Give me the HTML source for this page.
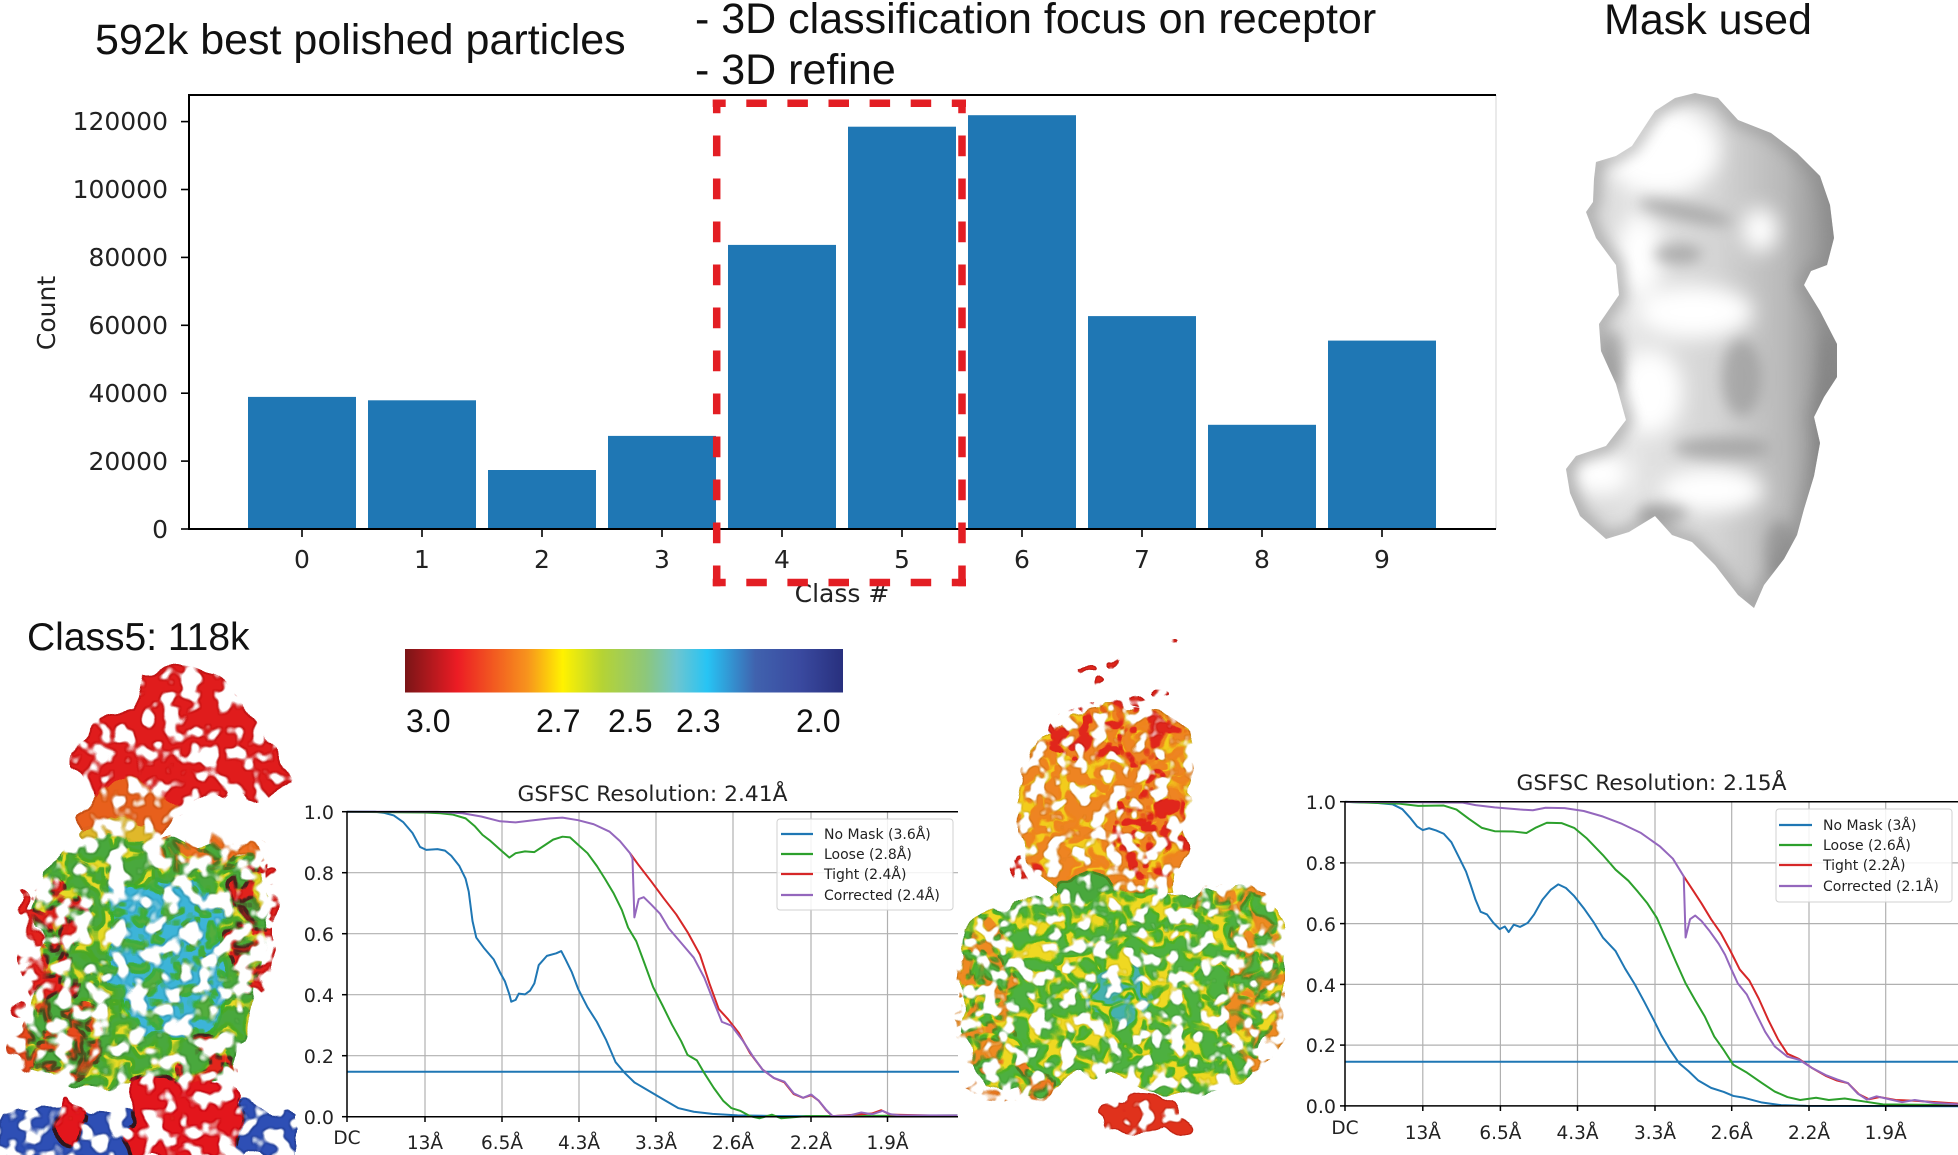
<!DOCTYPE html>
<html><head><meta charset="utf-8"><style>
html,body{margin:0;padding:0;background:#fff;}
body{width:1958px;height:1155px;overflow:hidden;}
svg{display:block;}
.lib{font-family:"Liberation Sans",Arial,sans-serif;fill:#111;}
.dv{font-family:"DejaVu Sans","Liberation Sans",sans-serif;fill:#222;}
</style></head><body>
<svg width="1958" height="1155" viewBox="0 0 1958 1155" xmlns="http://www.w3.org/2000/svg">
<defs>
  <linearGradient id="cbar" x1="0" y1="0" x2="1" y2="0">
    <stop offset="0" stop-color="#7a1517"/>
    <stop offset="0.12" stop-color="#ec1c24"/>
    <stop offset="0.28" stop-color="#f7941d"/>
    <stop offset="0.36" stop-color="#fff200"/>
    <stop offset="0.45" stop-color="#b5d334"/>
    <stop offset="0.55" stop-color="#8dc77b"/>
    <stop offset="0.62" stop-color="#6dc5d0"/>
    <stop offset="0.69" stop-color="#27c4f4"/>
    <stop offset="0.80" stop-color="#4062ae"/>
    <stop offset="0.90" stop-color="#3a4aa0"/>
    <stop offset="1" stop-color="#28307e"/>
  </linearGradient>
  <linearGradient id="blobg" gradientUnits="userSpaceOnUse" x1="1566" y1="0" x2="1840" y2="0">
    <stop offset="0" stop-color="#d0d0d0"/>
    <stop offset="0.25" stop-color="#e4e4e4"/>
    <stop offset="0.55" stop-color="#d4d4d4"/>
    <stop offset="0.8" stop-color="#b8b8b8"/>
    <stop offset="1" stop-color="#8a8a8a"/>
  </linearGradient>
  <clipPath id="blobclip"><path d="M1655,111 L1675,98 L1695,93 L1718,98 L1738,120 L1771,133 L1797,153 L1820,176 L1830,205 L1834,238 L1827,265 L1811,271 L1804,285 L1820,311 L1837,344 L1837,377 L1824,397 L1814,417 L1820,443 L1814,476 L1804,509 L1797,535 L1784,559 L1764,585 L1754,608 L1738,595 L1715,565 L1692,542 L1672,535 L1655,516 L1629,532 L1606,539 L1580,516 L1570,493 L1566,469 L1576,456 L1606,446 L1626,420 L1616,384 L1601,351 L1599,324 L1619,295 L1616,265 L1596,238 L1586,212 L1593,202 L1594,179 L1596,162 L1616,156 L1632,146 L1649,120 Z"/></clipPath>
  <filter id="blur10" x="-50%" y="-50%" width="200%" height="200%"><feGaussianBlur stdDeviation="10"/></filter>
  <filter id="blur7" x="-50%" y="-50%" width="200%" height="200%"><feGaussianBlur stdDeviation="7"/></filter>
  <filter id="holesL" x="-10%" y="-10%" width="120%" height="120%">
    <feTurbulence type="fractalNoise" baseFrequency="0.03" numOctaves="2" seed="7" result="d"/>
    <feDisplacementMap in="SourceGraphic" in2="d" scale="30" xChannelSelector="R" yChannelSelector="G" result="disp"/>
    <feTurbulence type="fractalNoise" baseFrequency="0.055" numOctaves="2" seed="4" result="t"/>
    <feColorMatrix in="t" type="matrix" values="0 0 0 0 0 0 0 0 0 0 0 0 0 0 0 -10 0 0 0 6.05" result="m"/>
    <feComposite in="disp" in2="m" operator="in" result="c"/>
    <feComponentTransfer in="c" result="dark"><feFuncR type="linear" slope="0.72"/><feFuncG type="linear" slope="0.72"/><feFuncB type="linear" slope="0.72"/></feComponentTransfer>
    <feMorphology in="c" operator="erode" radius="1.3" result="er"/>
    <feMerge><feMergeNode in="dark"/><feMergeNode in="er"/></feMerge>
  </filter>
  <filter id="holesM" x="-10%" y="-10%" width="120%" height="120%">
    <feTurbulence type="fractalNoise" baseFrequency="0.035" numOctaves="2" seed="13" result="d"/>
    <feDisplacementMap in="SourceGraphic" in2="d" scale="26" xChannelSelector="R" yChannelSelector="G" result="disp"/>
    <feTurbulence type="fractalNoise" baseFrequency="0.065" numOctaves="2" seed="9" result="t"/>
    <feColorMatrix in="t" type="matrix" values="0 0 0 0 0 0 0 0 0 0 0 0 0 0 0 -10 0 0 0 6.2" result="m"/>
    <feComposite in="disp" in2="m" operator="in" result="c"/>
    <feComponentTransfer in="c" result="dark"><feFuncR type="linear" slope="0.72"/><feFuncG type="linear" slope="0.72"/><feFuncB type="linear" slope="0.72"/></feComponentTransfer>
    <feMorphology in="c" operator="erode" radius="1.2" result="er"/>
    <feMerge><feMergeNode in="dark"/><feMergeNode in="er"/></feMerge>
  </filter>
  <filter id="spA" x="-5%" y="-5%" width="110%" height="110%">
    <feTurbulence type="fractalNoise" baseFrequency="0.07" numOctaves="2" seed="11" result="t"/>
    <feColorMatrix in="t" type="matrix" values="0 0 0 0 0 0 0 0 0 0 0 0 0 0 0 10 0 0 0 -5.0" result="m"/>
    <feComposite in="SourceGraphic" in2="m" operator="in"/>
  </filter>
  <filter id="spB" x="-5%" y="-5%" width="110%" height="110%">
    <feTurbulence type="fractalNoise" baseFrequency="0.08" numOctaves="2" seed="23" result="t"/>
    <feColorMatrix in="t" type="matrix" values="0 0 0 0 0 0 0 0 0 0 0 0 0 0 0 10 0 0 0 -5.3" result="m"/>
    <feComposite in="SourceGraphic" in2="m" operator="in"/>
  </filter>
  <filter id="spC" x="-5%" y="-5%" width="110%" height="110%">
    <feTurbulence type="fractalNoise" baseFrequency="0.07" numOctaves="2" seed="37" result="t"/>
    <feColorMatrix in="t" type="matrix" values="0 0 0 0 0 0 0 0 0 0 0 0 0 0 0 10 0 0 0 -4.8" result="m"/>
    <feComposite in="SourceGraphic" in2="m" operator="in"/>
  </filter>
</defs>

<!-- Titles -->
<text class="lib" x="95" y="54" font-size="43">592k best polished particles</text>
<text class="lib" x="695" y="33" font-size="43">- 3D classification focus on receptor</text>
<text class="lib" x="695" y="84" font-size="43">- 3D refine</text>
<text class="lib" x="1604" y="34" font-size="43">Mask used</text>

<!-- Bar chart -->
<g fill="#1f77b4">
  <rect x="248" y="396.9" width="108" height="132.1"/>
  <rect x="368" y="400.3" width="108" height="128.7"/>
  <rect x="488" y="470.0" width="108" height="59.0"/>
  <rect x="608" y="435.9" width="108" height="93.1"/>
  <rect x="728" y="244.9" width="108" height="284.1"/>
  <rect x="848" y="126.7" width="108" height="402.3"/>
  <rect x="968" y="115.2" width="108" height="413.8"/>
  <rect x="1088" y="316.1" width="108" height="212.9"/>
  <rect x="1208" y="424.8" width="108" height="104.2"/>
  <rect x="1328" y="340.6" width="108" height="188.4"/>
</g>
<line x1="1496" y1="95" x2="1496" y2="529" stroke="#d6d6d6" stroke-width="1"/>
<g stroke="#000" stroke-width="2">
  <line x1="188" y1="95" x2="1496" y2="95"/>
  <line x1="188" y1="529" x2="1496" y2="529"/>
  <line x1="189" y1="95" x2="189" y2="530"/>
</g>
<g stroke="#000" stroke-width="1.6">
  <line x1="181" y1="529" x2="189" y2="529"/>
  <line x1="181" y1="461.1" x2="189" y2="461.1"/>
  <line x1="181" y1="393.2" x2="189" y2="393.2"/>
  <line x1="181" y1="325.3" x2="189" y2="325.3"/>
  <line x1="181" y1="257.4" x2="189" y2="257.4"/>
  <line x1="181" y1="189.5" x2="189" y2="189.5"/>
  <line x1="181" y1="121.6" x2="189" y2="121.6"/>
  <line x1="302" y1="529" x2="302" y2="537"/>
  <line x1="422" y1="529" x2="422" y2="537"/>
  <line x1="542" y1="529" x2="542" y2="537"/>
  <line x1="662" y1="529" x2="662" y2="537"/>
  <line x1="782" y1="529" x2="782" y2="537"/>
  <line x1="902" y1="529" x2="902" y2="537"/>
  <line x1="1022" y1="529" x2="1022" y2="537"/>
  <line x1="1142" y1="529" x2="1142" y2="537"/>
  <line x1="1262" y1="529" x2="1262" y2="537"/>
  <line x1="1382" y1="529" x2="1382" y2="537"/>
</g>
<g class="dv" font-size="25" text-anchor="end">
  <text x="168" y="538">0</text>
  <text x="168" y="470">20000</text>
  <text x="168" y="402">40000</text>
  <text x="168" y="334">60000</text>
  <text x="168" y="266">80000</text>
  <text x="168" y="198">100000</text>
  <text x="168" y="130">120000</text>
</g>
<g class="dv" font-size="25" text-anchor="middle">
  <text x="302" y="568">0</text>
  <text x="422" y="568">1</text>
  <text x="542" y="568">2</text>
  <text x="662" y="568">3</text>
  <text x="782" y="568">4</text>
  <text x="902" y="568">5</text>
  <text x="1022" y="568">6</text>
  <text x="1142" y="568">7</text>
  <text x="1262" y="568">8</text>
  <text x="1382" y="568">9</text>
  <text x="842" y="602">Class #</text>
</g>
<text class="dv" font-size="25" text-anchor="middle" transform="translate(55,313) rotate(-90)">Count</text>

<!-- Red dashed box -->
<g stroke="#e31e24" stroke-width="7.5" fill="none">
  <line x1="712.7" y1="103.3" x2="966" y2="103.3" stroke-dasharray="20.5 20.6" stroke-dashoffset="7.5"/>
  <line x1="712.7" y1="582.5" x2="966" y2="582.5" stroke-dasharray="20.5 20.6" stroke-dashoffset="7.5"/>
  <line x1="716.7" y1="99.5" x2="716.7" y2="586.3" stroke-dasharray="20.7 22.3" stroke-dashoffset="7"/>
  <line x1="962" y1="99.5" x2="962" y2="586.3" stroke-dasharray="20.7 22.3" stroke-dashoffset="7"/>
</g>

<!-- Mask blob -->
<g clip-path="url(#blobclip)">
  <rect x="1560" y="90" width="290" height="525" fill="url(#blobg)"/>
  <g filter="url(#blur10)" fill="#ffffff">
    <ellipse cx="1662" cy="150" rx="58" ry="45"/>
    <ellipse cx="1695" cy="312" rx="58" ry="26"/>
    <ellipse cx="1600" cy="474" rx="30" ry="22"/>
    <ellipse cx="1712" cy="490" rx="52" ry="22"/>
    <ellipse cx="1640" cy="255" rx="22" ry="40"/>
    <ellipse cx="1650" cy="392" rx="32" ry="42"/>
    <ellipse cx="1760" cy="230" rx="18" ry="22"/>
  </g>
  <g filter="url(#blur7)" fill="#9a9a9a" opacity="0.7">
    <ellipse cx="1685" cy="212" rx="48" ry="9" transform="rotate(12 1685 212)"/>
    <ellipse cx="1678" cy="254" rx="24" ry="10"/>
    <ellipse cx="1742" cy="378" rx="20" ry="38"/>
    <ellipse cx="1722" cy="448" rx="48" ry="11"/>
    <ellipse cx="1662" cy="514" rx="26" ry="10"/>
    <ellipse cx="1612" cy="360" rx="12" ry="30"/>
  </g>
  <path d="M1655,111 L1675,98 L1695,93 L1718,98 L1738,120 L1771,133 L1797,153 L1820,176 L1830,205 L1834,238 L1827,265 L1811,271 L1804,285 L1820,311 L1837,344 L1837,377 L1824,397 L1814,417 L1820,443 L1814,476 L1804,509 L1797,535 L1784,559 L1764,585 L1754,608 L1738,595 L1715,565 L1692,542 L1672,535 L1655,516 L1629,532 L1606,539 L1580,516 L1570,493 L1566,469 L1576,456 L1606,446 L1626,420 L1616,384 L1601,351 L1599,324 L1619,295 L1616,265 L1596,238 L1586,212 L1593,202 L1594,179 L1596,162 L1616,156 L1632,146 L1649,120 Z" fill="none" stroke="#8a8a8a" stroke-width="14" opacity="0.55" filter="url(#blur7)"/>
  <g filter="url(#blur7)" fill="#7a7a7a" opacity="0.5">
    <ellipse cx="1826" cy="440" rx="12" ry="110"/>
    <ellipse cx="1780" cy="550" rx="16" ry="30"/>
  </g>
</g>

<!-- Class5 label & colorbar -->
<text class="lib" x="27" y="650" font-size="39">Class5: 118k</text>
<rect x="405" y="649" width="438" height="43.5" fill="url(#cbar)"/>
<g class="lib" font-size="32">
  <text x="406" y="732">3.0</text>
  <text x="536" y="732">2.7</text>
  <text x="608" y="732">2.5</text>
  <text x="676" y="732">2.3</text>
  <text x="796" y="732">2.0</text>
</g>

<!-- Left density map -->
<g filter="url(#holesL)">
  <path d="M72,752 C85,728 110,714 140,702 L145,672 C165,662 190,664 212,676 C236,690 252,710 266,736 C280,756 292,772 284,790 C272,802 256,804 238,796 C220,790 205,792 190,804 C174,818 150,824 125,820 C100,812 88,792 72,772 Z" fill="#e01b1f"/>
  <ellipse cx="128" cy="812" rx="44" ry="30" fill="#e8601f"/>
  <ellipse cx="118" cy="834" rx="34" ry="16" fill="#e0b82a"/>
  <path d="M45,862 C70,842 110,836 150,840 C200,836 240,846 262,872 C272,900 268,940 258,975 C250,1010 240,1050 230,1075 C200,1085 150,1090 110,1088 C70,1088 35,1080 25,1060 C20,1030 30,1000 40,980 C35,950 30,910 45,862 Z" fill="#4aa83c"/>
  <path d="M45,862 C70,842 110,836 150,840 C200,836 240,846 262,872 C272,900 268,940 258,975 C250,1010 240,1050 230,1075 C200,1085 150,1090 110,1088 C70,1088 35,1080 25,1060 C20,1030 30,1000 40,980 C35,950 30,910 45,862 Z" fill="#e6da28" filter="url(#spA)"/>
  <path d="M118,888 C150,874 198,878 220,902 C230,940 226,990 214,1030 C190,1040 150,1040 127,1025 C112,990 108,930 118,888 Z" fill="#3cb4d8"/>
  <path d="M118,888 C150,874 198,878 220,902 C230,940 226,990 214,1030 C190,1040 150,1040 127,1025 C112,990 108,930 118,888 Z" fill="#52ad3e" filter="url(#spB)"/>
  <g filter="url(#spC)">
    <ellipse cx="52" cy="945" rx="30" ry="70" fill="#e2231f"/>
    <ellipse cx="60" cy="1040" rx="45" ry="40" fill="#e84a1f"/>
    <ellipse cx="254" cy="925" rx="24" ry="72" fill="#e0201c"/>
    <ellipse cx="205" cy="852" rx="60" ry="18" fill="#f07020"/>
    <ellipse cx="210" cy="1060" rx="30" ry="25" fill="#e3251e"/>
  </g>
  <g fill="#e2231f">
    <ellipse cx="22" cy="905" rx="7" ry="14"/>
    <ellipse cx="274" cy="875" rx="6" ry="12"/>
    <ellipse cx="15" cy="1005" rx="8" ry="10"/>
  </g>
  <path d="M0,1112 C40,1100 100,1106 150,1110 C200,1104 260,1100 295,1115 L295,1160 L0,1160 Z" fill="#2d4fb5"/>
  <ellipse cx="68" cy="1120" rx="18" ry="22" fill="#e3191c"/>
  <path d="M140,1085 C165,1075 205,1078 228,1085 C245,1100 245,1130 240,1160 L130,1160 C125,1125 125,1100 140,1085 Z" fill="#e3191c"/>
</g>

<!-- Middle density map -->
<g filter="url(#holesM)">
  <g fill="#e0261c">
    <ellipse cx="1085" cy="672" rx="7" ry="4"/>
    <ellipse cx="1112" cy="662" rx="5" ry="3"/>
    <ellipse cx="1100" cy="685" rx="6" ry="4"/>
    <ellipse cx="1160" cy="692" rx="7" ry="4"/>
    <ellipse cx="1176" cy="645" rx="4" ry="3"/>
    <ellipse cx="1140" cy="702" rx="10" ry="5"/>
  </g>
  <path d="M1040,735 C1065,712 1110,704 1158,712 C1182,722 1195,745 1192,782 C1188,822 1183,860 1172,890 C1140,900 1100,900 1062,895 C1042,880 1024,860 1018,840 C1014,810 1022,770 1040,735 Z" fill="#ee8422"/>
  <path d="M1040,735 C1065,712 1110,704 1158,712 C1182,722 1195,745 1192,782 C1188,822 1183,860 1172,890 C1140,900 1100,900 1062,895 C1042,880 1024,860 1018,840 C1014,810 1022,770 1040,735 Z" fill="#f2cc1e" filter="url(#spA)"/>
  <g filter="url(#spB)">
    <ellipse cx="1110" cy="735" rx="70" ry="30" fill="#e0261c"/>
    <ellipse cx="1150" cy="825" rx="36" ry="55" fill="#e0261c"/>
    <ellipse cx="1025" cy="868" rx="22" ry="12" fill="#e0261c"/>
  </g>
  <ellipse cx="1085" cy="892" rx="28" ry="20" fill="#4aa83c"/>
  <path d="M962,930 C985,910 1020,905 1060,898 C1120,892 1180,895 1230,888 C1262,890 1282,905 1285,940 C1288,990 1275,1040 1250,1070 C1230,1090 1200,1100 1165,1098 C1140,1095 1125,1080 1110,1070 C1080,1080 1045,1095 1010,1092 C985,1085 968,1060 962,1020 C958,990 958,960 962,930 Z" fill="#4db040"/>
  <ellipse cx="1120" cy="995" rx="35" ry="28" fill="#44b2c8" opacity="0.8"/>
  <path d="M962,930 C985,910 1020,905 1060,898 C1120,892 1180,895 1230,888 C1262,890 1282,905 1285,940 C1288,990 1275,1040 1250,1070 C1230,1090 1200,1100 1165,1098 C1140,1095 1125,1080 1110,1070 C1080,1080 1045,1095 1010,1092 C985,1085 968,1060 962,1020 C958,990 958,960 962,930 Z" fill="#efd820" filter="url(#spC)"/>
  <g filter="url(#spA)">
    <ellipse cx="985" cy="1000" rx="30" ry="80" fill="#ee8a22"/>
    <ellipse cx="1255" cy="990" rx="30" ry="80" fill="#ee8a22"/>
    <ellipse cx="1010" cy="1080" rx="45" ry="20" fill="#ee7a22"/>
    <ellipse cx="1230" cy="900" rx="40" ry="14" fill="#ee8a22"/>
  </g>
  <ellipse cx="1140" cy="1115" rx="42" ry="18" fill="#e0301c"/>
  <ellipse cx="1178" cy="1126" rx="16" ry="10" fill="#e0301c"/>
</g>

<!-- FSC plot 1 -->
<g stroke="#b0b0b0" stroke-width="1.2">
  <line x1="347" y1="1055.7" x2="958" y2="1055.7"/>
  <line x1="347" y1="994.7" x2="958" y2="994.7"/>
  <line x1="347" y1="933.7" x2="958" y2="933.7"/>
  <line x1="347" y1="872.7" x2="958" y2="872.7"/>
  <line x1="425" y1="811.7" x2="425" y2="1116.7"/>
  <line x1="502" y1="811.7" x2="502" y2="1116.7"/>
  <line x1="579" y1="811.7" x2="579" y2="1116.7"/>
  <line x1="656" y1="811.7" x2="656" y2="1116.7"/>
  <line x1="733" y1="811.7" x2="733" y2="1116.7"/>
  <line x1="811" y1="811.7" x2="811" y2="1116.7"/>
  <line x1="887.5" y1="811.7" x2="887.5" y2="1116.7"/>
</g>
<line x1="347" y1="1071.7" x2="959" y2="1071.7" stroke="#1f77b4" stroke-width="2"/>
<g transform="translate(0,580) scale(0.625,0.3667)" fill="none" stroke-width="2" stroke-linejoin="round">
  <polyline vector-effect="non-scaling-stroke" stroke="#1f77b4" points="555,632 600,632 615,635 630,642 645,660 660,690 672,728 682,736 700,734 712,738 722,752 735,780 745,815 750,850 753,890 756,930 762,975 775,1005 790,1035 800,1070 808,1095 815,1130 818,1150 825,1145 830,1128 840,1130 848,1120 855,1100 862,1050 875,1025 890,1018 898,1012 905,1035 915,1070 925,1115 940,1165 955,1205 970,1255 985,1315 1000,1345 1015,1370 1030,1385 1050,1405 1065,1420 1085,1440 1110,1450 1140,1456 1180,1460 1250,1462 1532,1462"/>
  <polyline vector-effect="non-scaling-stroke" stroke="#2ca02c" points="555,632 680,634 705,636 725,640 745,650 760,672 772,695 785,712 800,735 815,757 825,745 840,740 855,742 870,725 885,708 900,700 912,702 925,722 940,745 955,780 968,815 982,855 995,900 1005,948 1018,985 1030,1040 1045,1110 1060,1160 1075,1212 1090,1258 1100,1295 1115,1310 1127,1345 1142,1385 1157,1420 1170,1440 1185,1448 1200,1462 1215,1468 1235,1458 1250,1468 1290,1462 1532,1460"/>
  <polyline vector-effect="non-scaling-stroke" stroke="#d62728" points="1008,745 1022,778 1042,822 1062,868 1082,912 1100,960 1120,1022 1135,1100 1150,1170 1165,1198 1182,1235 1200,1290 1220,1335 1238,1358 1255,1370 1270,1402 1285,1412 1298,1405 1310,1420 1322,1446 1332,1462 1370,1458 1395,1455 1410,1446 1425,1458 1532,1462"/>
  <polyline vector-effect="non-scaling-stroke" stroke="#9467bd" points="555,632 700,632 740,636 770,645 800,658 825,661 850,656 880,650 900,648 925,655 950,666 975,686 992,712 1008,745 1012,760 1015,920 1022,870 1030,865 1042,885 1056,910 1070,950 1090,990 1110,1030 1127,1085 1142,1150 1155,1205 1170,1215 1188,1255 1205,1300 1220,1335 1238,1358 1255,1368 1270,1400 1285,1412 1298,1403 1310,1420 1322,1445 1332,1462 1360,1460 1378,1452 1395,1457 1412,1448 1425,1457 1440,1460 1532,1460"/>
</g>
<g stroke="#000" stroke-width="1.5">
  <line x1="346" y1="811.7" x2="958" y2="811.7"/>
  <line x1="346" y1="1116.7" x2="958" y2="1116.7"/>
  <line x1="347" y1="811.7" x2="347" y2="1116.7"/>
  <line x1="342" y1="811.7" x2="347" y2="811.7"/>
  <line x1="342" y1="872.7" x2="347" y2="872.7"/>
  <line x1="342" y1="933.7" x2="347" y2="933.7"/>
  <line x1="342" y1="994.7" x2="347" y2="994.7"/>
  <line x1="342" y1="1055.7" x2="347" y2="1055.7"/>
  <line x1="342" y1="1116.7" x2="347" y2="1116.7"/>
  <line x1="347" y1="1116.7" x2="347" y2="1122"/>
  <line x1="425" y1="1116.7" x2="425" y2="1122"/>
  <line x1="502" y1="1116.7" x2="502" y2="1122"/>
  <line x1="579" y1="1116.7" x2="579" y2="1122"/>
  <line x1="656" y1="1116.7" x2="656" y2="1122"/>
  <line x1="733" y1="1116.7" x2="733" y2="1122"/>
  <line x1="811" y1="1116.7" x2="811" y2="1122"/>
  <line x1="887.5" y1="1116.7" x2="887.5" y2="1122"/>
</g>
<text class="dv" x="652.5" y="801" font-size="21" text-anchor="middle" textLength="270" lengthAdjust="spacingAndGlyphs">GSFSC Resolution: 2.41Å</text>
<g class="dv" font-size="19" text-anchor="end">
  <text x="334" y="819">1.0</text>
  <text x="334" y="880">0.8</text>
  <text x="334" y="941">0.6</text>
  <text x="334" y="1002">0.4</text>
  <text x="334" y="1063">0.2</text>
  <text x="334" y="1124">0.0</text>
</g>
<g class="dv" font-size="18.5" text-anchor="middle">
  <text x="347" y="1144">DC</text>
  <text x="425" y="1149">13Å</text>
  <text x="502" y="1149">6.5Å</text>
  <text x="579" y="1149">4.3Å</text>
  <text x="656" y="1149">3.3Å</text>
  <text x="733" y="1149">2.6Å</text>
  <text x="811" y="1149">2.2Å</text>
  <text x="887.5" y="1149">1.9Å</text>
</g>
<rect x="777" y="819" width="176" height="91" rx="3" fill="#fff" fill-opacity="0.85" stroke="#d0d0d0" stroke-width="1"/>
<g stroke-width="2.2">
  <line x1="781" y1="834" x2="813" y2="834" stroke="#1f77b4"/>
  <line x1="781" y1="854" x2="813" y2="854" stroke="#2ca02c"/>
  <line x1="781" y1="874" x2="813" y2="874" stroke="#d62728"/>
  <line x1="781" y1="895" x2="813" y2="895" stroke="#9467bd"/>
</g>
<g class="dv" font-size="14">
  <text x="824" y="839">No Mask (3.6Å)</text>
  <text x="824" y="859">Loose (2.8Å)</text>
  <text x="824" y="879">Tight (2.4Å)</text>
  <text x="824" y="900">Corrected (2.4Å)</text>
</g>

<!-- FSC plot 2 -->
<g stroke="#b0b0b0" stroke-width="1.2">
  <line x1="1345" y1="1045.1" x2="1958" y2="1045.1"/>
  <line x1="1345" y1="984.4" x2="1958" y2="984.4"/>
  <line x1="1345" y1="923.6" x2="1958" y2="923.6"/>
  <line x1="1345" y1="862.9" x2="1958" y2="862.9"/>
  <line x1="1422.8" y1="801.7" x2="1422.8" y2="1105.9"/>
  <line x1="1500.4" y1="801.7" x2="1500.4" y2="1105.9"/>
  <line x1="1577.5" y1="801.7" x2="1577.5" y2="1105.9"/>
  <line x1="1655" y1="801.7" x2="1655" y2="1105.9"/>
  <line x1="1731.7" y1="801.7" x2="1731.7" y2="1105.9"/>
  <line x1="1809" y1="801.7" x2="1809" y2="1105.9"/>
  <line x1="1885.7" y1="801.7" x2="1885.7" y2="1105.9"/>
</g>
<line x1="1345" y1="1061.7" x2="1958" y2="1061.7" stroke="#1f77b4" stroke-width="2"/>
<g transform="translate(960,580) scale(0.6365,0.3667)" fill="none" stroke-width="2" stroke-linejoin="round">
  <polyline vector-effect="non-scaling-stroke" stroke="#1f77b4" points="605,605 650,607 680,612 695,625 708,650 718,672 727,682 737,677 748,683 760,692 772,715 785,760 795,795 802,830 810,872 818,905 828,912 838,935 848,952 856,945 862,960 870,940 880,946 892,935 902,912 915,872 928,845 940,830 952,840 965,862 980,895 995,932 1010,975 1030,1012 1045,1060 1060,1102 1075,1150 1090,1200 1102,1242 1115,1280 1130,1318 1145,1340 1160,1365 1180,1385 1200,1396 1215,1407 1232,1412 1260,1425 1290,1432 1330,1434 1568,1435"/>
  <polyline vector-effect="non-scaling-stroke" stroke="#2ca02c" points="605,605 690,610 720,616 760,615 780,626 800,652 820,676 840,685 870,686 890,690 905,675 922,662 945,663 965,676 985,705 1010,750 1030,790 1050,820 1065,850 1080,882 1095,922 1110,982 1125,1042 1140,1100 1155,1146 1170,1190 1185,1245 1200,1282 1215,1322 1235,1342 1260,1372 1280,1395 1300,1410 1320,1418 1345,1412 1365,1418 1390,1414 1420,1422 1450,1430 1568,1432"/>
  <polyline vector-effect="non-scaling-stroke" stroke="#d62728" points="1137,808 1150,842 1165,882 1180,925 1195,962 1210,1010 1225,1062 1240,1092 1255,1142 1270,1200 1285,1252 1300,1292 1318,1306 1338,1330 1360,1352 1378,1365 1395,1372 1412,1402 1428,1416 1445,1410 1470,1418 1500,1420 1568,1428"/>
  <polyline vector-effect="non-scaling-stroke" stroke="#9467bd" points="605,605 790,607 810,614 840,620 880,626 900,628 920,621 950,622 980,630 1010,645 1040,665 1070,690 1100,727 1120,760 1137,808 1140,975 1147,925 1155,915 1165,930 1178,958 1192,992 1202,1022 1212,1062 1222,1100 1236,1130 1250,1180 1265,1232 1280,1272 1300,1300 1318,1308 1338,1330 1360,1350 1378,1362 1395,1372 1410,1400 1425,1417 1440,1408 1460,1416 1480,1424 1500,1418 1530,1426 1568,1430"/>
</g>
<g stroke="#000" stroke-width="1.5">
  <line x1="1344" y1="801.7" x2="1958" y2="801.7"/>
  <line x1="1344" y1="1105.9" x2="1958" y2="1105.9"/>
  <line x1="1345" y1="801.7" x2="1345" y2="1105.9"/>
  <line x1="1340" y1="801.7" x2="1345" y2="801.7"/>
  <line x1="1340" y1="862.9" x2="1345" y2="862.9"/>
  <line x1="1340" y1="923.6" x2="1345" y2="923.6"/>
  <line x1="1340" y1="984.4" x2="1345" y2="984.4"/>
  <line x1="1340" y1="1045.1" x2="1345" y2="1045.1"/>
  <line x1="1340" y1="1105.9" x2="1345" y2="1105.9"/>
  <line x1="1345" y1="1105.9" x2="1345" y2="1111"/>
  <line x1="1422.8" y1="1105.9" x2="1422.8" y2="1111"/>
  <line x1="1500.4" y1="1105.9" x2="1500.4" y2="1111"/>
  <line x1="1577.5" y1="1105.9" x2="1577.5" y2="1111"/>
  <line x1="1655" y1="1105.9" x2="1655" y2="1111"/>
  <line x1="1731.7" y1="1105.9" x2="1731.7" y2="1111"/>
  <line x1="1809" y1="1105.9" x2="1809" y2="1111"/>
  <line x1="1885.7" y1="1105.9" x2="1885.7" y2="1111"/>
</g>
<text class="dv" x="1651.5" y="790" font-size="21" text-anchor="middle" textLength="270" lengthAdjust="spacingAndGlyphs">GSFSC Resolution: 2.15Å</text>
<g class="dv" font-size="19" text-anchor="end">
  <text x="1336" y="809">1.0</text>
  <text x="1336" y="870">0.8</text>
  <text x="1336" y="931">0.6</text>
  <text x="1336" y="992">0.4</text>
  <text x="1336" y="1052">0.2</text>
  <text x="1336" y="1113">0.0</text>
</g>
<g class="dv" font-size="18.5" text-anchor="middle">
  <text x="1345" y="1134">DC</text>
  <text x="1422.8" y="1139">13Å</text>
  <text x="1500.4" y="1139">6.5Å</text>
  <text x="1577.5" y="1139">4.3Å</text>
  <text x="1655" y="1139">3.3Å</text>
  <text x="1731.7" y="1139">2.6Å</text>
  <text x="1809" y="1139">2.2Å</text>
  <text x="1885.7" y="1139">1.9Å</text>
</g>
<rect x="1776" y="809" width="176" height="93" rx="3" fill="#fff" fill-opacity="0.85" stroke="#d0d0d0" stroke-width="1"/>
<g stroke-width="2.2">
  <line x1="1779" y1="825" x2="1812" y2="825" stroke="#1f77b4"/>
  <line x1="1779" y1="845" x2="1812" y2="845" stroke="#2ca02c"/>
  <line x1="1779" y1="865" x2="1812" y2="865" stroke="#d62728"/>
  <line x1="1779" y1="886" x2="1812" y2="886" stroke="#9467bd"/>
</g>
<g class="dv" font-size="14">
  <text x="1823" y="830">No Mask (3Å)</text>
  <text x="1823" y="850">Loose (2.6Å)</text>
  <text x="1823" y="870">Tight (2.2Å)</text>
  <text x="1823" y="891">Corrected (2.1Å)</text>
</g>
</svg>
</body></html>
